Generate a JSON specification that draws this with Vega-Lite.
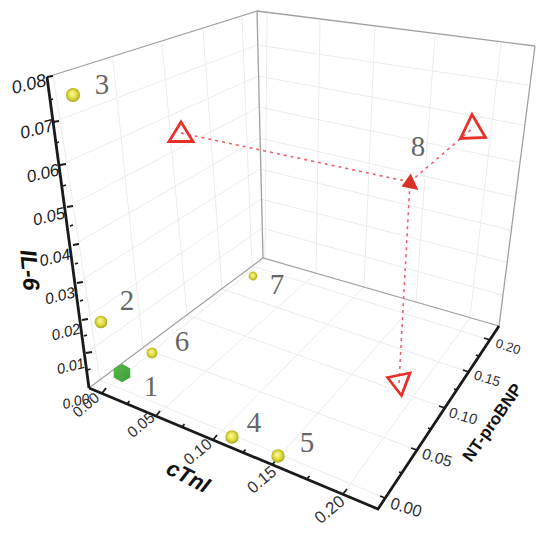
{"$schema":"https://vega.github.io/schema/vega-lite/v6.json","width":550,"height":539,"padding":0,"autosize":"none","background":"white","config":{"view":{"stroke":null},"axis":{"domain":false}},
"resolve":{"scale":{"size":"independent"}},
"datasets":{
"grid":[
{"g":"w1","u":53,"v":122},{"g":"w1","u":257,"v":45},{"g":"w1","u":528,"v":85},
{"g":"w2","u":60,"v":165},{"g":"w2","u":258,"v":76},{"g":"w2","u":523,"v":125},
{"g":"w3","u":67,"v":207},{"g":"w3","u":258.5,"v":107},{"g":"w3","u":518,"v":162},
{"g":"w4","u":73,"v":245},{"g":"w4","u":259.5,"v":138},{"g":"w4","u":515,"v":197},
{"g":"w5","u":77,"v":283},{"g":"w5","u":260,"v":169},{"g":"w5","u":510,"v":230},
{"g":"w6","u":82,"v":320},{"g":"w6","u":261,"v":199},{"g":"w6","u":506,"v":262},
{"g":"w7","u":86,"v":353},{"g":"w7","u":262,"v":228},{"g":"w7","u":502,"v":295},
{"g":"n1","u":53,"v":75},{"g":"n1","u":100,"v":380},{"g":"n1","u":385,"v":498},
{"g":"n2","u":113,"v":60},{"g":"n2","u":143,"v":348},{"g":"n2","u":417,"v":450},
{"g":"n3","u":162,"v":43},{"g":"n3","u":187,"v":315},{"g":"n3","u":445,"v":408},
{"g":"n4","u":203,"v":30},{"g":"n4","u":222,"v":289},{"g":"n4","u":469,"v":372},
{"g":"n5","u":242,"v":17},{"g":"n5","u":252,"v":266},{"g":"n5","u":490,"v":340},
{"g":"c1","u":267,"v":13},{"g":"c1","u":265,"v":259},{"g":"c1","u":102,"v":393},
{"g":"c2","u":320,"v":20},{"g":"c2","u":316,"v":273},{"g":"c2","u":156,"v":416},
{"g":"c3","u":375,"v":27},{"g":"c3","u":364,"v":287},{"g":"c3","u":213,"v":440},
{"g":"c4","u":435,"v":35},{"g":"c4","u":416,"v":302},{"g":"c4","u":272,"v":465},
{"g":"c5","u":501,"v":43},{"g":"c5","u":470,"v":318},{"g":"c5","u":343,"v":494}
],
"frame":[
{"g":"a","u":47,"v":77},{"g":"a","u":257,"v":11},{"g":"a","u":535,"v":46},
{"g":"d","u":535,"v":46},{"g":"d","u":499,"v":326},
{"g":"e","u":499,"v":326},{"g":"e","u":263,"v":258},{"g":"e","u":89,"v":388},
{"g":"b","u":257,"v":11},{"g":"b","u":263,"v":258}
],
"axes":[
{"g":"il","u":47,"v":77},{"g":"il","u":89,"v":388},{"g":"il2","u":89,"v":388},{"g":"il2","u":378,"v":509},{"g":"il2","u":499,"v":326}
],
"ticks":[
{"g":"i8","u":47,"v":77},{"g":"i8","u":53,"v":76},{"g":"i7","u":53,"v":122},{"g":"i7","u":59,"v":121},{"g":"i6","u":60,"v":165},{"g":"i6","u":66,"v":164},{"g":"i5","u":67,"v":207},{"g":"i5","u":73,"v":206},{"g":"i4","u":73,"v":245},{"g":"i4","u":79,"v":244},{"g":"i3","u":77,"v":283},{"g":"i3","u":83,"v":282},{"g":"i2","u":82,"v":320},{"g":"i2","u":88,"v":319},{"g":"i1","u":86,"v":353},{"g":"i1","u":92,"v":352},
{"g":"im1","u":50,"v":100},{"g":"im1","u":53,"v":99},{"g":"im2","u":56,"v":143},{"g":"im2","u":59,"v":142},{"g":"im3","u":63,"v":186},{"g":"im3","u":66,"v":185},{"g":"im4","u":70,"v":226},{"g":"im4","u":73,"v":225},{"g":"im5","u":75,"v":264},{"g":"im5","u":78,"v":263},{"g":"im6","u":80,"v":301},{"g":"im6","u":83,"v":300},{"g":"im7","u":84,"v":336},{"g":"im7","u":87,"v":335},{"g":"im8","u":87.5,"v":370},{"g":"im8","u":90.5,"v":369},
{"g":"x0","u":102,"v":393.4},{"g":"x0","u":106,"v":388},{"g":"x1","u":156,"v":416},{"g":"x1","u":160,"v":411},{"g":"x2","u":213,"v":440},{"g":"x2","u":217,"v":435},{"g":"x3","u":272,"v":465},{"g":"x3","u":276,"v":460},{"g":"x4","u":343,"v":494},{"g":"x4","u":347,"v":489},
{"g":"xm1","u":127,"v":404},{"g":"xm1","u":129.5,"v":401},{"g":"xm2","u":182,"v":427},{"g":"xm2","u":184.5,"v":424},{"g":"xm3","u":243,"v":452.5},{"g":"xm3","u":245.5,"v":449.5},{"g":"xm4","u":307,"v":479},{"g":"xm4","u":309.5,"v":476},
{"g":"n0","u":385,"v":498},{"g":"n0","u":380,"v":496},{"g":"n1","u":417,"v":450},{"g":"n1","u":411,"v":448},{"g":"n2","u":445,"v":408},{"g":"n2","u":439,"v":406},{"g":"n3","u":469,"v":372},{"g":"n3","u":463,"v":370},{"g":"n4","u":490,"v":340},{"g":"n4","u":484,"v":338},
{"g":"nm1","u":402,"v":473},{"g":"nm1","u":399,"v":472},{"g":"nm2","u":431,"v":429},{"g":"nm2","u":428,"v":428},{"g":"nm3","u":457,"v":390},{"g":"nm3","u":454,"v":389},{"g":"nm4","u":479,"v":356},{"g":"nm4","u":476,"v":355}
],
"projection":[
{"g":"cTnI","u":181,"v":133},{"g":"cTnI","u":410,"v":182},
{"g":"NT","u":473,"v":128},{"g":"NT","u":410,"v":182},
{"g":"IL","u":399,"v":383},{"g":"IL","u":410,"v":182}
],
"spheres":[
{"id":"2","u":101,"v":322,"depth":7,"lu":127,"lv":301},
{"id":"3","u":73,"v":95,"depth":8,"lu":102,"lv":85},
{"id":"4","u":232,"v":437,"depth":7.5,"lu":254,"lv":423},
{"id":"5","u":278,"v":456,"depth":7.5,"lu":307,"lv":443},
{"id":"6","u":152,"v":353,"depth":6,"lu":182,"lv":342},
{"id":"7","u":253,"v":276,"depth":5,"lu":277,"lv":285}
],
"others":[
{"id":"1","lu":151,"lv":387},{"id":"8","lu":418,"lv":147}
],
"ilLabels":[
{"value":0.08,"u":29,"v":85},{"value":0.07,"u":37,"v":130},{"value":0.06,"u":43,"v":174},{"value":0.05,"u":49,"v":217},{"value":0.04,"u":55,"v":258},{"value":0.03,"u":60,"v":296},{"value":0.02,"u":66,"v":332},{"value":0.01,"u":71,"v":367},{"value":0,"u":76,"v":402}
],
"xLabels":[
{"value":0,"u":86,"v":405},{"value":0.05,"u":141,"v":425},{"value":0.1,"u":198,"v":452},{"value":0.15,"u":262,"v":480},{"value":0.2,"u":330,"v":510}
],
"nLabels":[
{"value":0,"u":406,"v":508},{"value":0.05,"u":437,"v":458},{"value":0.1,"u":463,"v":417},{"value":0.15,"u":487,"v":379},{"value":0.2,"u":508,"v":347}
]
},
"encoding":{
"x":{"field":"u","type":"quantitative","scale":{"domain":[0,550],"nice":false,"zero":false},"axis":null},
"y":{"field":"v","type":"quantitative","scale":{"domain":[539,0],"nice":false,"zero":false},"axis":null}
},
"layer":[
{"data":{"name":"grid"},"mark":{"type":"line","stroke":"#ebebed","strokeWidth":1},"encoding":{"detail":{"field":"g"}}},
{"data":{"name":"frame"},"mark":{"type":"line","stroke":"#a0a0a0","strokeWidth":1.3},"encoding":{"detail":{"field":"g"}}},
{"data":{"name":"axes"},"mark":{"type":"line","stroke":"#1a1a1a","strokeWidth":2.8},"encoding":{"detail":{"field":"g"}}},
{"data":{"name":"ticks"},"mark":{"type":"line","stroke":"#1a1a1a","strokeWidth":1.8},"encoding":{"detail":{"field":"g"}}},
{"data":{"name":"projection"},"mark":{"type":"line","stroke":"#e8636a","strokeWidth":1.6,"strokeDash":[3,4]},"encoding":{"detail":{"field":"g"}}},
{"data":{"values":[{"u":181,"v":133}]},"mark":{"type":"point","shape":"M0,-1.1L1.2,0.85L-1.2,0.85Z","filled":false,"opacity":1,"stroke":"#e8302a","strokeWidth":2.8,"size":400}},
{"data":{"values":[{"u":473,"v":128}]},"mark":{"type":"point","shape":"M-0.1,-1.35L1.25,0.95L-1.25,1.05Z","filled":false,"opacity":1,"stroke":"#e8302a","strokeWidth":2.8,"size":400}},
{"data":{"values":[{"u":399,"v":383}]},"mark":{"type":"point","shape":"M-1.15,-0.55L1.1,-1L0.25,1.25Z","filled":false,"opacity":1,"stroke":"#e8302a","strokeWidth":2.8,"size":400}},
{"data":{"values":[{"u":410,"v":182}]},"mark":{"type":"point","shape":"M0.1,-1.2L1.2,1.15L-1.2,0.65Z","filled":true,"fill":"#d9302a","opacity":1,"stroke":null,"size":196}},
{"data":{"values":[{"u":122,"v":373}]},"mark":{"type":"point","shape":"M0,-1L0.9,-0.5L0.9,0.5L0,1L-0.9,0.5L-0.9,-0.5Z","filled":true,"opacity":1,"stroke":null,"size":340,"fill":{"gradient":"linear","x1":0,"y1":0,"x2":1,"y2":1,"stops":[{"offset":0,"color":"#58b74a"},{"offset":1,"color":"#3f9e38"}]}}},
{"data":{"name":"spheres"},"mark":{"type":"point","shape":"circle","filled":true,"opacity":1,"stroke":null,"fill":{"gradient":"radial","x1":0.42,"y1":0.38,"r1":0,"x2":0.5,"y2":0.5,"r2":0.55,"stops":[{"offset":0,"color":"#fbfab0"},{"offset":0.55,"color":"#e0dc3a"},{"offset":1,"color":"#9e9c1c"}]}},"encoding":{"size":{"field":"depth","type":"quantitative","scale":{"domain":[5,8],"range":[78,201]},"legend":null}}},
{"data":{"name":"spheres"},"mark":{"type":"text","font":"Liberation Serif","fontSize":29,"fill":"#666666","align":"center","baseline":"middle"},"encoding":{"x":{"field":"lu","type":"quantitative"},"y":{"field":"lv","type":"quantitative"},"text":{"field":"id"}}},
{"data":{"name":"others"},"mark":{"type":"text","font":"Liberation Serif","fontSize":29,"fill":"#666666","align":"center","baseline":"middle"},"encoding":{"x":{"field":"lu","type":"quantitative"},"y":{"field":"lv","type":"quantitative"},"text":{"field":"id"}}},
{"data":{"name":"ilLabels"},"mark":{"type":"text","font":"Liberation Sans","fontStyle":"italic","fill":"#1a1a1a","angle":-14,"align":"center","baseline":"middle"},"encoding":{"text":{"field":"value","type":"quantitative","format":".2f"},"size":{"field":"value","type":"quantitative","scale":{"domain":[0,0.08],"range":[14,18]},"legend":null}}},
{"data":{"name":"xLabels"},"mark":{"type":"text","font":"Liberation Sans","fill":"#333333","angle":-40,"align":"center","baseline":"middle"},"encoding":{"text":{"field":"value","type":"quantitative","format":".2f"},"size":{"field":"value","type":"quantitative","scale":{"domain":[0,0.2],"range":[15,17]},"legend":null}}},
{"data":{"name":"nLabels"},"mark":{"type":"text","font":"Liberation Sans","fill":"#333333","angle":17,"align":"center","baseline":"middle"},"encoding":{"text":{"field":"value","type":"quantitative","format":".2f"},"size":{"field":"value","type":"quantitative","scale":{"domain":[0,0.2],"range":[16.5,13]},"legend":null}}},
{"data":{"values":[{"t":"IL-6","u":29,"v":270}]},"mark":{"type":"text","font":"Liberation Sans","fontWeight":"bold","fontStyle":"italic","fontSize":23,"fill":"#111111","angle":85,"align":"center","baseline":"middle"},"encoding":{"text":{"field":"t"}}},
{"data":{"values":[{"t":"cTnI","u":188,"v":477}]},"mark":{"type":"text","font":"Liberation Sans","fontWeight":"bold","fontStyle":"italic","fontSize":22,"fill":"#111111","angle":27,"align":"center","baseline":"middle"},"encoding":{"text":{"field":"t"}}},
{"data":{"values":[{"t":"NT-proBNP","u":493,"v":423}]},"mark":{"type":"text","font":"Liberation Sans","fontWeight":"bold","fontSize":17,"fill":"#111111","angle":-55,"align":"center","baseline":"middle"},"encoding":{"text":{"field":"t"}}}
]}
